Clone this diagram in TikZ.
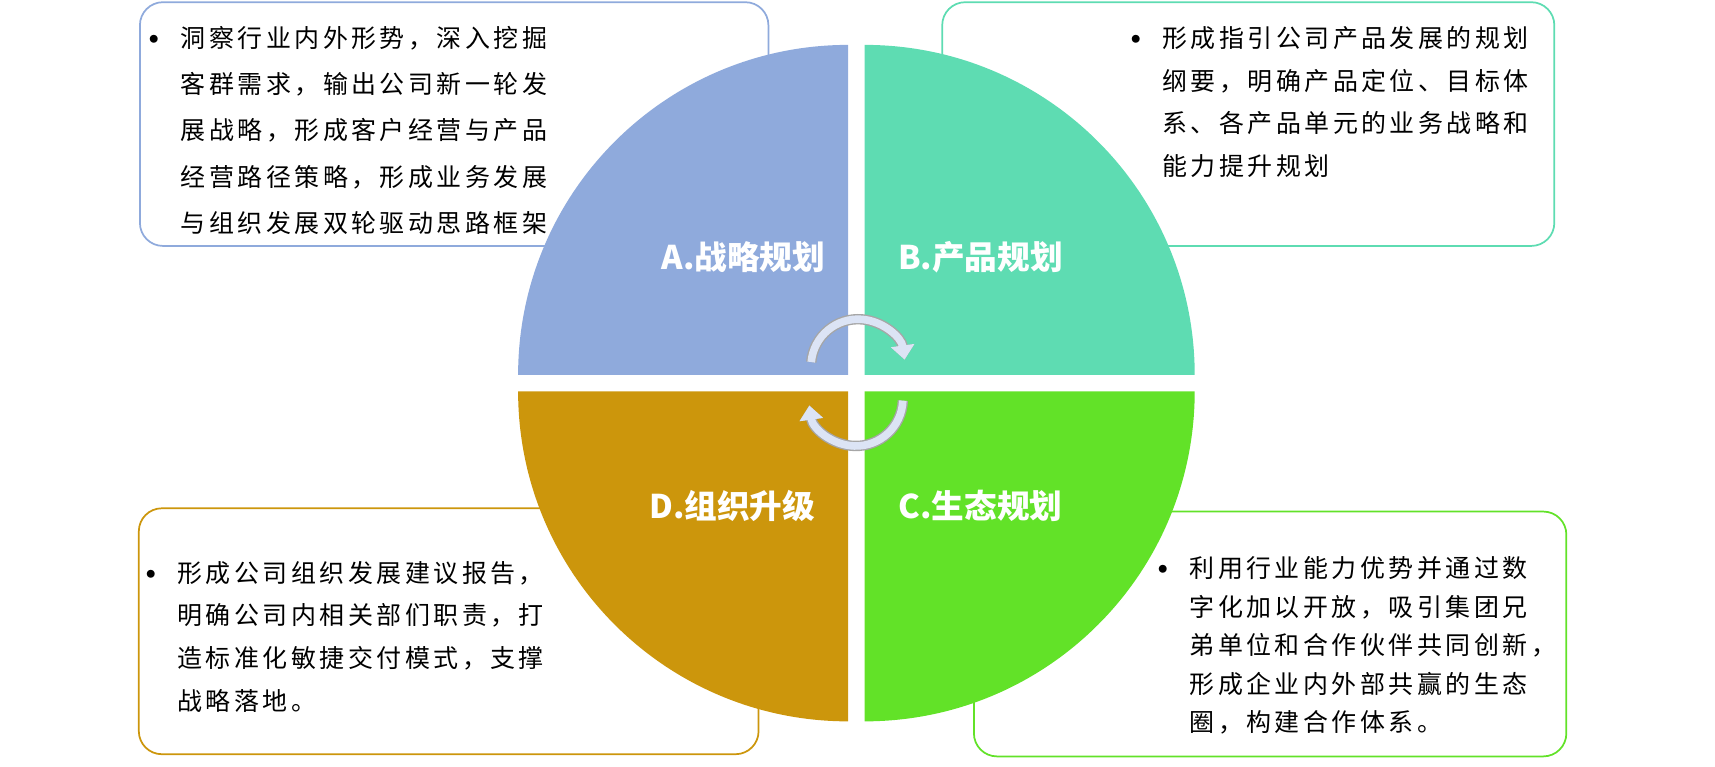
\documentclass[tikz,border=0pt]{standalone}
\usepackage{fontspec}
\setmainfont{Noto Sans CJK SC}
\newfontfamily\cjk{Noto Sans CJK SC}[LetterSpace=14]
\usetikzlibrary{arrows.meta,positioning}
\definecolor{colA}{HTML}{8FAADC}
\definecolor{colB}{HTML}{5EDCB2}
\definecolor{colC}{HTML}{62E228}
\definecolor{colD}{HTML}{CC960C}
\definecolor{cyclefill}{HTML}{DCE4F5}
\tikzset{
	descbox/.style={
		rounded corners=12pt,
		line width=0.9pt,
		fill=white},
	desctext/.style={
		anchor=north west,
		align=left,
		inner sep=0pt,
		font=\cjk\fontsize{13}{22.2}\selectfont},
	quadlabel/.style={
		text=white,
		font=\bfseries\fontsize{17}{19}\selectfont},
	cyclearrow/.style={
		line width=0.14cm,
		-{Triangle[width=0.42cm,length=0.26cm]}}
}
\newcommand{\bul}{\makebox[0pt][r]{\raisebox{-0.45ex}{\scalebox{1.5}{•}}\hspace{0.3em}}}
\begin{document}
\begin{tikzpicture}[x=0.02cm,y=0.02cm]
    \useasboundingbox (0,0) rectangle (1569,-701);

    % description boxes
    \draw[descbox, draw=colA] (128,-2) rectangle (703,-225);
    \draw[descbox, draw=colB] (862,-2) rectangle (1422,-225);
    \draw[descbox, draw=colD] (127,-465) rectangle (694,-690);
    \draw[descbox, draw=colC] (891,-468) rectangle (1433,-692);

    % quadrants
    \fill[colA] (776,-343) -- (474,-343) arc[start angle=180, end angle=90, radius=6.04cm] -- cycle;
    \fill[colB] (791,-343) -- (1093,-343) arc[start angle=0, end angle=90, radius=6.04cm] -- cycle;
    \fill[colC] (791,-358) -- (1093,-358) arc[start angle=0, end angle=-90, radius=6.04cm] -- cycle;
    \fill[colD] (776,-358) -- (474,-358) arc[start angle=180, end angle=270, radius=6.04cm] -- cycle;

    \node[quadlabel] (labA) at (680,-235) {A.战略规划};
    \node[quadlabel] (labB) at (897,-235) {B.产品规划};
    \node[quadlabel] (labC) at (897,-463) {C.生态规划};
    \node[quadlabel] (labD) at (670,-463) {D.组织升级};

    % cycle arrows
    \coordinate (cycT) at (785,-335);
    \coordinate (cycB) at (783,-365);
    \draw[cyclearrow, gray!70, line width=0.19cm] ([shift={(175:0.86cm)}]cycT) arc[start angle=175, end angle=8, radius=0.86cm];
    \draw[cyclearrow, cyclefill] ([shift={(175:0.86cm)}]cycT) arc[start angle=175, end angle=8, radius=0.86cm];
    \draw[cyclearrow, gray!70, line width=0.19cm] ([shift={(-2:0.86cm)}]cycB) arc[start angle=-2, end angle=-172, radius=0.86cm];
    \draw[cyclearrow, cyclefill] ([shift={(-2:0.86cm)}]cycB) arc[start angle=-2, end angle=-172, radius=0.86cm];

    % texts
    \node[desctext, font=\cjk\fontsize{13}{24}\selectfont] (txtA) at (165,-24) {\bul 洞察行业内外形势，深入挖掘\\ 客群需求，输出公司新一轮发\\ 展战略，形成客户经营与产品\\ 经营路径策略，形成业务发展\\ 与组织发展双轮驱动思路框架};
    \node[desctext] (txtB) at (1063,-24) {\bul 形成指引公司产品发展的规划\\ 纲要，明确产品定位、目标体\\ 系、各产品单元的业务战略和\\ 能力提升规划};
    \node[desctext] (txtD) at (162,-513) {\bul 形成公司组织发展建议报告，\\ 明确公司内相关部们职责，打\\ 造标准化敏捷交付模式，支撑\\ 战略落地。};
    \node[desctext, font=\cjk\fontsize{13}{20}\selectfont] (txtC) at (1088,-509) {\bul 利用行业能力优势并通过数\\ 字化加以开放，吸引集团兄\\ 弟单位和合作伙伴共同创新，\\ 形成企业内外部共赢的生态\\ 圈，构建合作体系。};
\end{tikzpicture}
\end{document}
